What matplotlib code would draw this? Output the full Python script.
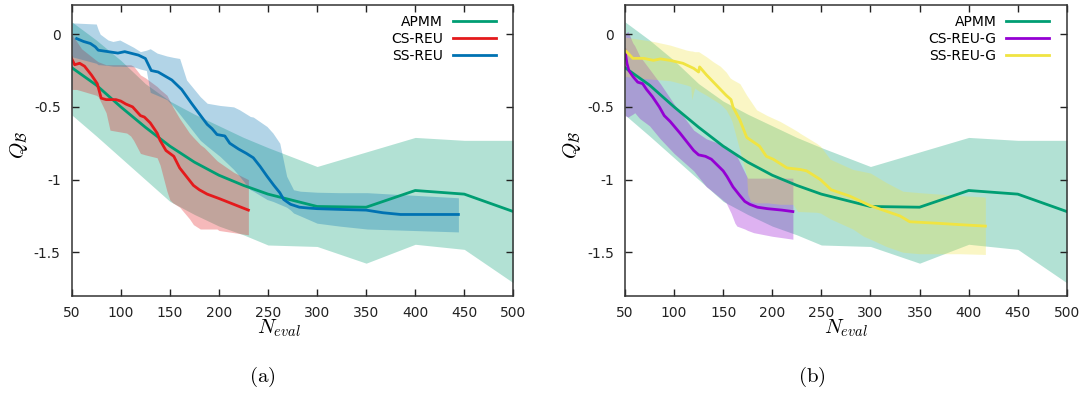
import matplotlib
matplotlib.use('Agg')
import matplotlib.pyplot as plt
import numpy as np

plt.rcParams.update({'font.size': 10, 'font.family': 'DejaVu Sans',
                     'mathtext.fontset': 'cm', 'axes.unicode_minus': False})

# ---- APMM (same in both panels) ----
apmm_x = [50, 75, 100, 125, 150, 175, 200, 225, 250, 300, 350, 400, 450, 500]
apmm_q = [-0.23, -0.35, -0.50, -0.64, -0.77, -0.88, -0.97, -1.04, -1.10, -1.185, -1.19, -1.075, -1.10, -1.22]
apmm_hi = [0.085, -0.04, -0.18, -0.34, -0.46, -0.55, -0.63, -0.71, -0.78, -0.91, -0.81, -0.71, -0.73, -0.73]
apmm_lo = [-0.555, -0.70, -0.85, -1.0, -1.15, -1.24, -1.32, -1.38, -1.45, -1.46, -1.575, -1.445, -1.48, -1.71]

# ---- CS-REU ----
cs_x = [49, 50, 53, 58, 63, 70, 76, 80, 85, 95, 100, 105, 112, 120, 124, 130, 137, 140, 146, 150,
        154, 160, 167, 174, 180, 188, 200, 215, 230]
cs_q = [-0.15, -0.17, -0.21, -0.20, -0.22, -0.28, -0.34, -0.44, -0.45, -0.45, -0.46, -0.48, -0.50,
        -0.56, -0.57, -0.61, -0.68, -0.73, -0.80, -0.82, -0.84, -0.92, -0.98, -1.04, -1.07, -1.10,
        -1.13, -1.17, -1.21]
cs_band_x = [50, 55, 60, 75, 77, 85, 89, 106, 110, 113, 120, 125, 137, 140, 147, 150, 153, 160,
             170, 174, 181, 185, 198, 200, 215, 230]
cs_hi = [0.0, -0.05, -0.10, -0.18, -0.19, -0.21, -0.21, -0.21, -0.21, -0.22, -0.28, -0.30, -0.36,
         -0.38, -0.42, -0.46, -0.50, -0.58, -0.68, -0.71, -0.76, -0.78, -0.87, -0.88, -0.95, -1.0]
cs_lo = [-0.38, -0.38, -0.39, -0.42, -0.43, -0.54, -0.66, -0.68, -0.70, -0.73, -0.82, -0.83, -0.85,
         -0.90, -1.08, -1.14, -1.16, -1.19, -1.27, -1.31, -1.34, -1.34, -1.34, -1.35, -1.365, -1.38]

# ---- SS-REU ----
ss_x = [55, 62, 69, 74, 77, 87, 97, 104, 118, 125, 131, 138, 152, 162, 172, 182, 188, 193, 198,
        206, 211, 220, 228, 235, 242, 249, 256, 262, 266, 273, 282, 290, 300, 323, 350, 367, 385, 444]
ss_q = [-0.03, -0.05, -0.064, -0.087, -0.11, -0.12, -0.13, -0.12, -0.144, -0.167, -0.25, -0.26,
        -0.315, -0.38, -0.475, -0.566, -0.62, -0.65, -0.69, -0.70, -0.75, -0.79, -0.82, -0.85, -0.91,
        -0.977, -1.04, -1.09, -1.137, -1.17, -1.19, -1.195, -1.20, -1.205, -1.21, -1.228, -1.24, -1.24]
ss_band_x = [50, 75, 77, 79, 87, 92, 99, 113, 120, 126, 130, 137, 147, 154, 160, 167, 181, 188,
             201, 215, 221, 232, 235, 249, 255, 262, 269, 273, 276, 283, 300, 323, 351, 444]
ss_hi = [0.078, 0.07, 0.03, 0.0, -0.04, -0.05, -0.04, -0.09, -0.12, -0.11, -0.10, -0.13, -0.15,
         -0.16, -0.167, -0.315, -0.43, -0.475, -0.49, -0.50, -0.52, -0.566, -0.57, -0.635, -0.68,
         -0.75, -0.977, -1.03, -1.07, -1.08, -1.087, -1.09, -1.09, -1.125]
ss_lo = [-0.155, -0.20, -0.21, -0.21, -0.215, -0.22, -0.22, -0.224, -0.24, -0.25, -0.40, -0.42,
         -0.45, -0.50, -0.55, -0.61, -0.73, -0.77, -0.84, -0.93, -0.977, -1.07, -1.08, -1.137, -1.15,
         -1.17, -1.19, -1.21, -1.23, -1.25, -1.30, -1.32, -1.34, -1.36]

# ---- CS-REU-G ----
csg_x = [50, 52, 54, 58, 63, 68, 72, 78, 85, 90, 96, 106, 113, 120, 125, 132, 138, 144, 150, 154,
         160, 167, 172, 177, 185, 195, 210, 221]
csg_q = [-0.11, -0.20, -0.25, -0.29, -0.33, -0.34, -0.38, -0.43, -0.50, -0.56, -0.60, -0.68, -0.74,
         -0.80, -0.83, -0.84, -0.86, -0.90, -0.94, -0.98, -1.05, -1.11, -1.15, -1.17, -1.19, -1.20,
         -1.21, -1.22]
csg_band_x = [50, 53, 58, 60, 65, 75, 86, 100, 120, 133, 137, 153, 158, 162, 164, 172, 175, 181, 200, 221]
csg_hi = [0.0, 0.02, -0.06, -0.08, -0.15, -0.24, -0.34, -0.48, -0.66, -0.72, -0.73, -0.77, -0.80,
          -0.82, -0.84, -0.95, -0.99, -0.99, -0.99, -0.99]
csg_lo = [-0.56, -0.57, -0.55, -0.54, -0.58, -0.63, -0.72, -0.82, -0.94, -1.05, -1.07, -1.16, -1.23,
          -1.30, -1.32, -1.34, -1.35, -1.365, -1.39, -1.41]

# ---- SS-REU-G ----
ssg_x = [50, 55, 58, 69, 79, 86, 96, 109, 120, 125, 126, 133, 143, 153, 158, 160, 167, 174, 187,
         194, 201, 215, 228, 235, 249, 260, 279, 300, 330, 340, 367, 391, 417]
ssg_q = [-0.11, -0.144, -0.166, -0.166, -0.18, -0.17, -0.18, -0.20, -0.235, -0.26, -0.225, -0.28,
         -0.35, -0.42, -0.45, -0.50, -0.59, -0.71, -0.77, -0.84, -0.86, -0.92, -0.93, -0.94, -1.0,
         -1.07, -1.114, -1.18, -1.25, -1.29, -1.30, -1.31, -1.32]
ssg_band_x = [50, 60, 79, 96, 113, 117, 118, 121, 125, 133, 140, 147, 153, 157, 159, 167, 174, 175,
              178, 184, 195, 208, 221, 226, 228, 245, 249, 259, 282, 293, 300, 316, 333, 350, 391, 417]
ssg_hi = [-0.02, -0.03, -0.05, -0.075, -0.11, -0.115, -0.115, -0.12, -0.12, -0.155, -0.19, -0.22,
          -0.26, -0.30, -0.31, -0.34, -0.42, -0.43, -0.46, -0.52, -0.56, -0.60, -0.65, -0.67, -0.68,
          -0.75, -0.77, -0.86, -0.93, -0.945, -0.955, -1.02, -1.08, -1.09, -1.11, -1.12]
ssg_lo = [-0.29, -0.30, -0.31, -0.32, -0.35, -0.36, -0.45, -0.37, -0.39, -0.42, -0.45, -0.48, -0.52,
          -0.57, -0.60, -0.80, -0.98, -1.10, -1.15, -1.16, -1.16, -1.17, -1.17, -1.22, -1.22, -1.225,
          -1.23, -1.27, -1.34, -1.39, -1.41, -1.46, -1.50, -1.51, -1.51, -1.515]

c_apmm = '#009E73'
c_red = '#e41a1c'
c_blue = '#0072B2'
c_purple = '#9400D3'
c_yellow = '#F0E442'


def draw_panel(ax, series):
    for name, color, x, q, bx, lo, hi in series:
        ax.fill_between(bx, lo, hi, color=color, alpha=0.3, lw=0)
        ax.plot(x, q, color=color, lw=2, label=name)
    ax.set_xlim(50, 500)
    ax.set_ylim(-1.8, 0.2)
    ax.set_xticks(np.arange(50, 501, 50))
    ax.set_yticks([0, -0.5, -1, -1.5])
    ax.set_yticklabels(['0', '-0.5', '-1', '-1.5'])
    ax.tick_params(direction='in', length=5, width=1, top=True, right=True,
                   labelsize=10, colors='#222222', pad=7)
    ax.tick_params(axis='y', pad=8)
    for s in ax.spines.values():
        s.set_linewidth(1.1)
        s.set_color('#333333')
    ax.set_xlabel(r'$N_{eval}$', fontsize=15)
    ax.set_ylabel(r'$Q_{\mathcal{B}}$', fontsize=15)
    ax.yaxis.set_label_coords(-0.095, 0.52)
    leg = ax.legend(loc='upper right', bbox_to_anchor=(0.96, 0.965), frameon=False,
                    markerfirst=False, handlelength=3.1, handletextpad=0.7,
                    labelspacing=0.2, borderpad=0, borderaxespad=0, fontsize=10)
    return leg


fig = plt.figure(figsize=(10.92, 3.94), dpi=100)
ax1 = fig.add_axes([0.0657, 0.249, 0.4044, 0.738])
ax2 = fig.add_axes([0.5723, 0.249, 0.4047, 0.738])

draw_panel(ax1, [
    ('APMM', c_apmm, apmm_x, apmm_q, apmm_x, apmm_lo, apmm_hi),
    ('CS-REU', c_red, cs_x, cs_q, cs_band_x, cs_lo, cs_hi),
    ('SS-REU', c_blue, ss_x, ss_q, ss_band_x, ss_lo, ss_hi),
])
draw_panel(ax2, [
    ('APMM', c_apmm, apmm_x, apmm_q, apmm_x, apmm_lo, apmm_hi),
    ('CS-REU-G', c_purple, csg_x, csg_q, csg_band_x, csg_lo, csg_hi),
    ('SS-REU-G', c_yellow, ssg_x, ssg_q, ssg_band_x, ssg_lo, ssg_hi),
])
ax1.xaxis.set_label_coords(0.47, -0.075)
ax2.xaxis.set_label_coords(0.50, -0.075)

fig.text(262 / 1092, 1 - 377 / 394, r'$\mathrm{(a)}$', ha='center', va='center', fontsize=15)
fig.text(812 / 1092, 1 - 377 / 394, r'$\mathrm{(b)}$', ha='center', va='center', fontsize=15)

fig.savefig('out.png', dpi=100)
